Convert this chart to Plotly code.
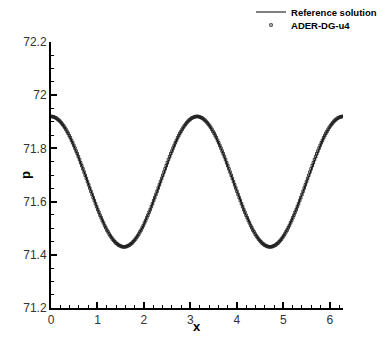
import plotly.graph_objects as go

# Sample positions (x) read along the axis, in blocks
x_vals = [
    0.000, 0.025, 0.049, 0.074, 0.098, 0.123, 0.147, 0.172, 0.196, 0.221, 0.245, 0.270, 0.295, 0.319, 0.344, 0.368,
    0.393, 0.417, 0.442, 0.466, 0.491, 0.515, 0.540, 0.565, 0.589, 0.614, 0.638, 0.663, 0.687, 0.712, 0.736, 0.761,
    0.785, 0.810, 0.834, 0.859, 0.884, 0.908, 0.933, 0.957, 0.982, 1.006, 1.031, 1.055, 1.080, 1.104, 1.129, 1.154,
    1.178, 1.203, 1.227, 1.252, 1.276, 1.301, 1.325, 1.350, 1.374, 1.399, 1.424, 1.448, 1.473, 1.497, 1.522, 1.546,
    1.571, 1.595, 1.620, 1.644, 1.669, 1.694, 1.718, 1.743, 1.767, 1.792, 1.816, 1.841, 1.865, 1.890, 1.914, 1.939,
    1.963, 1.988, 2.013, 2.037, 2.062, 2.086, 2.111, 2.135, 2.160, 2.184, 2.209, 2.233, 2.258, 2.283, 2.307, 2.332,
    2.356, 2.381, 2.405, 2.430, 2.454, 2.479, 2.503, 2.528, 2.553, 2.577, 2.602, 2.626, 2.651, 2.675, 2.700, 2.724,
    2.749, 2.773, 2.798, 2.823, 2.847, 2.872, 2.896, 2.921, 2.945, 2.970, 2.994, 3.019, 3.043, 3.068, 3.093, 3.117,
    3.142, 3.166, 3.191, 3.215, 3.240, 3.264, 3.289, 3.313, 3.338, 3.362, 3.387, 3.412, 3.436, 3.461, 3.485, 3.510,
    3.534, 3.559, 3.583, 3.608, 3.632, 3.657, 3.682, 3.706, 3.731, 3.755, 3.780, 3.804, 3.829, 3.853, 3.878, 3.902,
    3.927, 3.952, 3.976, 4.001, 4.025, 4.050, 4.074, 4.099, 4.123, 4.148, 4.172, 4.197, 4.222, 4.246, 4.271, 4.295,
    4.320, 4.344, 4.369, 4.393, 4.418, 4.442, 4.467, 4.491, 4.516, 4.541, 4.565, 4.590, 4.614, 4.639, 4.663, 4.688,
    4.712, 4.737, 4.761, 4.786, 4.811, 4.835, 4.860, 4.884, 4.909, 4.933, 4.958, 4.982, 5.007, 5.031, 5.056, 5.081,
    5.105, 5.130, 5.154, 5.179, 5.203, 5.228, 5.252, 5.277, 5.301, 5.326, 5.351, 5.375, 5.400, 5.424, 5.449, 5.473,
    5.498, 5.522, 5.547, 5.571, 5.596, 5.621, 5.645, 5.670, 5.694, 5.719, 5.743, 5.768, 5.792, 5.817, 5.841, 5.866,
    5.890, 5.915, 5.940, 5.964, 5.989, 6.013, 6.038, 6.062, 6.087, 6.111, 6.136, 6.160, 6.185, 6.210, 6.234, 6.259,
    6.283,
]

# Pressure: falling half-wave and rising half-wave
p_descend = [
    71.920, 71.920, 71.919, 71.917, 71.915, 71.913, 71.909, 71.906, 71.901, 71.896, 71.891, 71.885, 71.879, 71.872, 71.864, 71.857,
    71.848, 71.840, 71.830, 71.821, 71.811, 71.801, 71.790, 71.780, 71.769, 71.758, 71.746, 71.735, 71.723, 71.711, 71.699, 71.687,
    71.675, 71.663, 71.651, 71.639, 71.627, 71.615, 71.604, 71.592, 71.581, 71.570, 71.560, 71.549, 71.539, 71.529, 71.520, 71.510,
    71.502, 71.493, 71.486, 71.478, 71.471, 71.465, 71.459, 71.454, 71.449, 71.444, 71.441, 71.437, 71.435, 71.433, 71.431, 71.430,
]
p_ascend = [
    71.430, 71.430, 71.431, 71.433, 71.435, 71.437, 71.441, 71.444, 71.449, 71.454, 71.459, 71.465, 71.471, 71.478, 71.486, 71.493,
    71.502, 71.510, 71.520, 71.529, 71.539, 71.549, 71.560, 71.570, 71.581, 71.592, 71.604, 71.615, 71.627, 71.639, 71.651, 71.663,
    71.675, 71.687, 71.699, 71.711, 71.723, 71.735, 71.746, 71.758, 71.769, 71.780, 71.790, 71.801, 71.811, 71.821, 71.830, 71.840,
    71.848, 71.857, 71.864, 71.872, 71.879, 71.885, 71.891, 71.896, 71.901, 71.906, 71.909, 71.913, 71.915, 71.917, 71.919, 71.920,
]
p_end = [71.920]

p_ref = p_descend + p_ascend + p_descend + p_ascend + p_end
p_ader = p_descend + p_ascend + p_descend + p_ascend + p_end

y_ticks = [71.2, 71.4, 71.6, 71.8, 72.0, 72.2]
y_labels = ["71.2", "71.4", "71.6", "71.8", "72", "72.2"]
x_ticks = [0, 1, 2, 3, 4, 5, 6]

FONT = "Liberation Sans, Arial, Helvetica, sans-serif"

fig = go.Figure()
fig.add_trace(go.Scatter(
    x=x_vals, y=p_ref, mode="lines", name="<b>Reference solution</b>",
    line=dict(color="black", width=1.2), legend="legend"))
fig.add_trace(go.Scatter(
    x=x_vals, y=p_ader, mode="markers", name="<b>ADER-DG-u4</b>",
    marker=dict(symbol="square-open", size=2.5, color="#222222", line=dict(width=0.9)),
    legend="legend2"))

axis_common = dict(
    showline=True, linecolor="black", linewidth=2, mirror=False,
    ticks="inside", ticklen=6, tickwidth=2, tickcolor="black",
    showgrid=False, zeroline=False, automargin=False,
    tickfont=dict(family=FONT, size=12, color="#333333"),
)

fig.update_xaxes(
    range=[0, 6.283], tickvals=x_ticks, **axis_common,
    minor=dict(dtick=0.2, tick0=0, ticks="inside", ticklen=3, tickwidth=1, tickcolor="black"),
)
fig.update_yaxes(
    range=[71.2, 72.2], tickvals=y_ticks, ticktext=y_labels, **axis_common,
    minor=dict(dtick=0.05, tick0=71.2, ticks="inside", ticklen=3, tickwidth=1, tickcolor="black"),
)

legend_common = dict(xanchor="left", yanchor="middle",
                     font=dict(family=FONT, size=9.5, color="black"),
                     bgcolor="rgba(0,0,0,0)", itemwidth=30)

fig.update_layout(
    width=382, height=339,
    margin=dict(l=43, r=47, t=34, b=39, autoexpand=False),
    plot_bgcolor="white", paper_bgcolor="white",
    showlegend=True,
    legend=dict(x=0.685, y=1.1128, **legend_common),
    legend2=dict(x=0.685, y=1.0639, **legend_common),
    annotations=[
        dict(text="<b>x</b>", xref="paper", yref="paper", x=0.5, y=-0.0677,
             xanchor="center", yanchor="middle", showarrow=False,
             font=dict(family=FONT, size=13, color="black")),
        dict(text="<b>p</b>", xref="paper", yref="paper", x=-0.089, y=0.5,
             xanchor="center", yanchor="middle", showarrow=False, textangle=-90,
             font=dict(family=FONT, size=13, color="black")),
    ],
)

fig.write_html("out.html")
